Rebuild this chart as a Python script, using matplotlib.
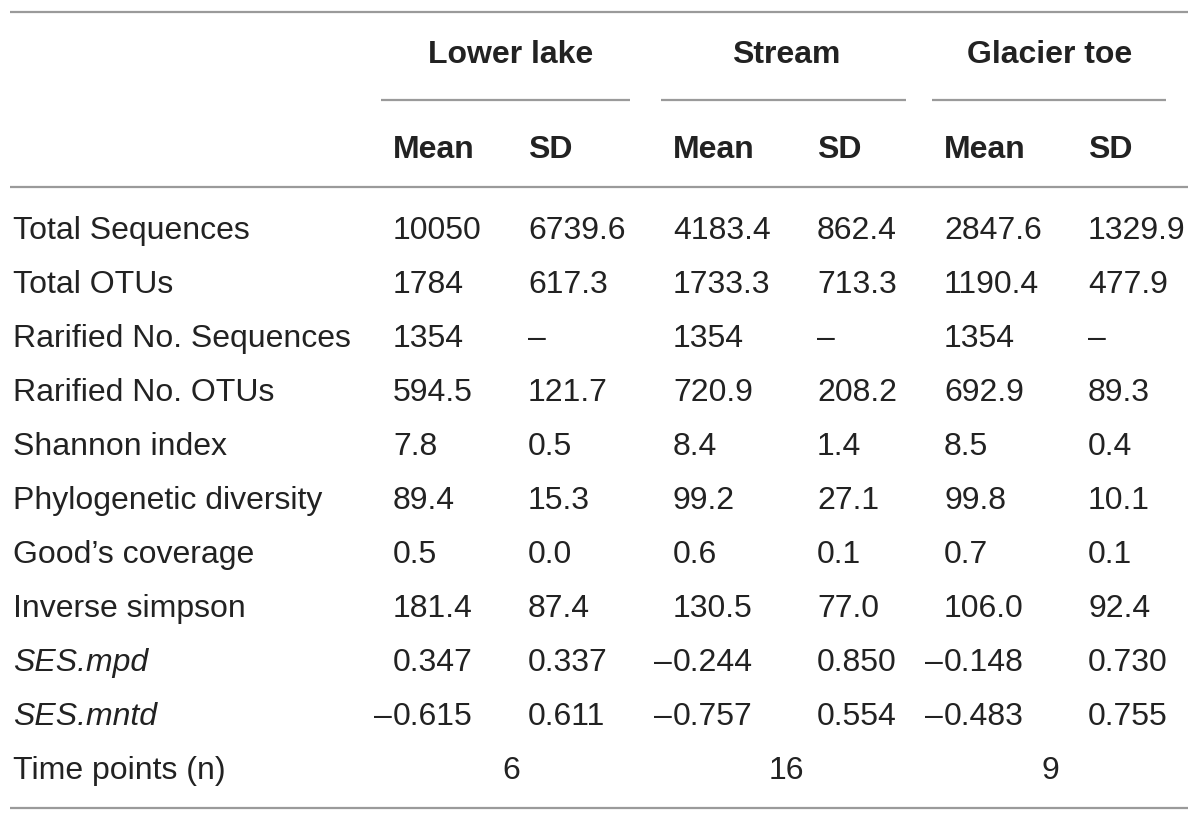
import matplotlib
matplotlib.use("Agg")
import matplotlib.pyplot as plt

# table content
groups = ["Lower lake", "Stream", "Glacier toe"]
sub_headers = ["Mean", "SD"]
row_labels = ["Total Sequences", "Total OTUs", "Rarified No. Sequences",
              "Rarified No. OTUs", "Shannon index", "Phylogenetic diversity",
              "Good\u2019s coverage", "Inverse simpson", "SES.mpd", "SES.mntd"]
italic_rows = ["SES.mpd", "SES.mntd"]
lower_lake = [("10050", "6739.6"), ("1784", "617.3"), ("1354", "\u2013"),
              ("594.5", "121.7"), ("7.8", "0.5"), ("89.4", "15.3"),
              ("0.5", "0.0"), ("181.4", "87.4"), ("0.347", "0.337"),
              ("\u20130.615", "0.611")]
stream = [("4183.4", "862.4"), ("1733.3", "713.3"), ("1354", "\u2013"),
          ("720.9", "208.2"), ("8.4", "1.4"), ("99.2", "27.1"),
          ("0.6", "0.1"), ("130.5", "77.0"), ("\u20130.244", "0.850"),
          ("\u20130.757", "0.554")]
glacier_toe = [("2847.6", "1329.9"), ("1190.4", "477.9"), ("1354", "\u2013"),
               ("692.9", "89.3"), ("8.5", "0.4"), ("99.8", "10.1"),
               ("0.7", "0.1"), ("106.0", "92.4"), ("\u20130.148", "0.730"),
               ("\u20130.483", "0.755")]
time_label = "Time points (n)"
time_points = ["6", "16", "9"]

# layout (pixel coordinates)
col_x = [393, 528, 673, 817, 944, 1088]
group_center = [511, 786, 1050]
group_span = [(381, 630), (661, 906), (932, 1166)]
first_baseline = 239
row_step = 54
FS = 23
TXT = "#222222"
LINE = "#9a9a9a"

plt.rcParams['font.family'] = ['Liberation Sans', 'DejaVu Sans']

fig = plt.figure(figsize=(12, 8.22), dpi=100)
ax = fig.add_axes([0, 0, 1, 1])
ax.set_xlim(0, 1200)
ax.set_ylim(822, 0)
ax.axis("off")

# horizontal rules
for y in (12, 187, 808):
    ax.plot([10, 1188], [y, y], color=LINE, lw=1.6, solid_capstyle="butt")
for x0, x1 in group_span:
    ax.plot([x0, x1], [100, 100], color=LINE, lw=1.6, solid_capstyle="butt")

# header
for name, cx in zip(groups, group_center):
    ax.text(cx, 63, name, ha="center", va="baseline", fontsize=FS,
            fontweight="bold", color=TXT)
for i, x in enumerate(col_x):
    ax.text(x, 158, sub_headers[i % 2], ha="left", va="baseline",
            fontsize=FS, fontweight="bold", color=TXT)


def put_value(x, y, s):
    # minus sign hangs to the left of the column edge
    if s.startswith("\u2013") and len(s) > 1:
        ax.text(x - 1, y, "\u2013", ha="right", va="baseline", fontsize=FS, color=TXT)
        s = s[1:]
    ax.text(x, y, s, ha="left", va="baseline", fontsize=FS, color=TXT)


for r, label in enumerate(row_labels):
    y = first_baseline + r * row_step
    style = "italic" if label in italic_rows else "normal"
    ax.text(13, y, label, ha="left", va="baseline", fontsize=FS,
            fontstyle=style, color=TXT)
    cells = list(lower_lake[r]) + list(stream[r]) + list(glacier_toe[r])
    for x, s in zip(col_x, cells):
        put_value(x, y, s)

y = first_baseline + len(row_labels) * row_step
ax.text(13, y, time_label, ha="left", va="baseline", fontsize=FS, color=TXT)
for cx, s in zip(group_center, time_points):
    ax.text(cx, y, s, ha="center", va="baseline", fontsize=FS, color=TXT)

fig.savefig("out.png", dpi=100, facecolor="white")
